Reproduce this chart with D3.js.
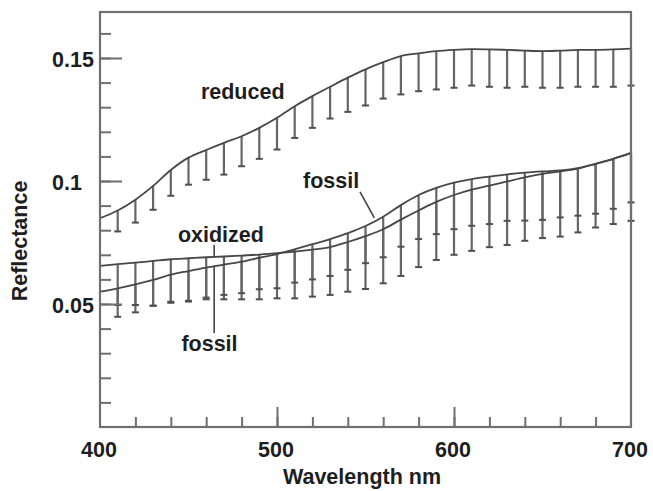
<!DOCTYPE html>
<html>
<head>
<meta charset="utf-8">
<script src="https://cdn.jsdelivr.net/npm/d3@7"></script>
<style>
  body { margin: 0; background: #fff; }
  text { font-family: "Liberation Sans", Arial, sans-serif; font-weight: bold; fill: #1e1e1e; }
</style>
</head>
<body>
<svg id="chart" width="653" height="491"></svg>
<script>
// wavelength samples (nm)
const wavelengths = [400, 410, 420, 430, 440, 450, 460, 470, 480, 490, 500, 510, 520, 530, 540, 550,
  560, 570, 580, 590, 600, 610, 620, 630, 640, 650, 660, 670, 680, 690, 700];

// mean reflectance curves
const reducedMean = [0.0849, 0.0880, 0.0924, 0.0980, 0.1045, 0.1095, 0.1126, 0.1155, 0.1182, 0.1216,
  0.1257, 0.1304, 0.1345, 0.1383, 0.1420, 0.1454, 0.1483, 0.1508, 0.1519, 0.1528, 0.1533, 0.1536,
  0.1535, 0.1533, 0.1530, 0.1528, 0.1530, 0.1533, 0.1533, 0.1535, 0.1538];
const oxidizedMean = [0.0655, 0.0662, 0.0668, 0.0675, 0.0682, 0.0686, 0.0690, 0.0693, 0.0697, 0.0701,
  0.0707, 0.0713, 0.0721, 0.0731, 0.0752, 0.0776, 0.0804, 0.0843, 0.0880, 0.0915, 0.0943, 0.0965,
  0.0981, 0.0998, 0.1015, 0.1029, 0.1039, 0.1050, 0.1070, 0.1090, 0.1114];
const fossilMean = [0.0550, 0.0564, 0.0580, 0.0598, 0.0619, 0.0634, 0.0648, 0.0660, 0.0672, 0.0688,
  0.0703, 0.0722, 0.0743, 0.0764, 0.0788, 0.0817, 0.0855, 0.0902, 0.0943, 0.0972, 0.0993, 0.1008,
  0.1018, 0.1027, 0.1034, 0.1039, 0.1043, 0.1052, 0.1070, 0.1090, 0.1114];

// lower end of the error bars (no bar at 400)
const reducedLow = [null, 0.0795, 0.0831, 0.0883, 0.0940, 0.0985, 0.1005, 0.1026, 0.1060, 0.1090,
  0.1128, 0.1175, 0.1216, 0.1254, 0.1281, 0.1307, 0.1335, 0.1352, 0.1365, 0.1372, 0.1379, 0.1388,
  0.1383, 0.1379, 0.1383, 0.1379, 0.1379, 0.1383, 0.1383, 0.1383, 0.1388];
const fossilLow = [null, 0.0496, 0.0496, 0.0493, 0.0509, 0.0513, 0.0526, 0.0537, 0.0544, 0.0560,
  0.0564, 0.0587, 0.0600, 0.0614, 0.0639, 0.0666, 0.0690, 0.0733, 0.0764, 0.0784, 0.0804, 0.0818,
  0.0825, 0.0838, 0.0839, 0.0842, 0.0852, 0.0859, 0.0867, 0.0887, 0.0913];
const oxidizedLow = [null, 0.0448, 0.0466, 0.0493, 0.0505, 0.0510, 0.0519, 0.0519, 0.0519, 0.0519,
  0.0523, 0.0523, 0.0530, 0.0537, 0.0550, 0.0561, 0.0584, 0.0614, 0.0650, 0.0679, 0.0700, 0.0716,
  0.0731, 0.0740, 0.0757, 0.0768, 0.0774, 0.0791, 0.0811, 0.0825, 0.0838];

const xTickLabels = [400, 500, 600, 700];
const yTickLabels = [0.05, 0.1, 0.15];

// text labels, anchored in data units (wavelength, reflectance)
const labelText = ['reduced', 'oxidized', 'fossil', 'fossil'];
const labelAt = [[457, 0.1335], [444, 0.0754], [446, 0.0308], [514.7, 0.0971]];
// pointer lines [[x1,y1],[x2,y2]] in data units
const pointers = [
  [[464.5, 0.0741], [464.5, 0.0691]],
  [[464.5, 0.0652], [464.5, 0.0382]],
  [[546.9, 0.0956], [555, 0.0850]]
];

const svg = d3.select('#chart');
const plotLeft = 100, plotRight = 631, plotTop = 12, plotBottom = 427;
const grey = '#6f6f6f';
const fs = 21.5;

const x = d3.scaleLinear().domain([400, 700]).range([plotLeft, plotRight]);
const y = d3.scaleLinear().domain([0, 0.1687]).range([plotBottom, plotTop]);

// error bars
function drawBars(mean, low, cls){
  const g = svg.append('g').attr('class', cls);
  wavelengths.forEach((w, i) => {
    if(low[i] == null) return;
    g.append('line')
      .attr('x1', x(w)).attr('x2', x(w))
      .attr('y1', y(mean[i])).attr('y2', y(low[i]))
      .attr('stroke', '#666').attr('stroke-width', 2.2);
    g.append('line')
      .attr('x1', x(w) - 3.5).attr('x2', x(w) + 3.5)
      .attr('y1', y(low[i])).attr('y2', y(low[i]))
      .attr('stroke', '#505050').attr('stroke-width', 2);
  });
}
drawBars(reducedMean, reducedLow, 'bars-reduced');
drawBars(oxidizedMean, oxidizedLow, 'bars-oxidized');
drawBars(fossilMean, fossilLow, 'bars-fossil');

// mean curves
const line = d3.line()
  .x((d, i) => x(wavelengths[i]))
  .y(d => y(d))
  .curve(d3.curveCatmullRom.alpha(0.5));

[reducedMean, oxidizedMean, fossilMean].forEach(s => {
  svg.append('path')
    .attr('d', line(s))
    .attr('fill', 'none')
    .attr('stroke', '#474747')
    .attr('stroke-width', 1.8);
});

// frame
svg.append('rect')
  .attr('x', plotLeft).attr('y', plotTop)
  .attr('width', plotRight - plotLeft).attr('height', plotBottom - plotTop)
  .attr('fill', 'none').attr('stroke', grey).attr('stroke-width', 2.2);

// bottom axis, ticks pointing inward
const xMinor = svg.append('g').attr('transform', `translate(0,${plotBottom})`)
  .call(d3.axisTop(x).tickValues(d3.range(420, 700, 20)).tickSize(10).tickFormat(''));
const xMajor = svg.append('g').attr('transform', `translate(0,${plotBottom})`)
  .call(d3.axisTop(x).tickValues([500, 600]).tickSize(20).tickFormat(''));
[xMinor, xMajor].forEach(g => {
  g.select('.domain').remove();
  g.selectAll('line').attr('stroke', grey).attr('stroke-width', 2);
});

svg.selectAll('.xlab')
  .data(xTickLabels)
  .enter().append('text')
  .attr('class', 'xlab')
  .attr('x', d => x(d) - 1)
  .attr('y', 457)
  .attr('text-anchor', 'middle')
  .attr('font-size', fs)
  .text(d => d);

// left axis, ticks pointing inward
const yMinor = svg.append('g').attr('transform', `translate(${plotLeft},0)`)
  .call(d3.axisRight(y).tickValues(d3.range(0.01, 0.165, 0.01)).tickSize(11).tickFormat(''));
const yMajor = svg.append('g').attr('transform', `translate(${plotLeft},0)`)
  .call(d3.axisRight(y).tickValues(yTickLabels).tickSize(22).tickFormat(''));
[yMinor, yMajor].forEach(g => {
  g.select('.domain').remove();
  g.selectAll('line').attr('stroke', grey).attr('stroke-width', 2);
});

svg.selectAll('.ylab')
  .data(yTickLabels)
  .enter().append('text')
  .attr('class', 'ylab')
  .attr('x', 52)
  .attr('y', d => y(d))
  .attr('dy', '0.4em')
  .attr('font-size', fs)
  .text(d => d);

// axis titles
svg.append('text')
  .attr('x', 362)
  .attr('y', 484)
  .attr('text-anchor', 'middle')
  .attr('font-size', fs)
  .text('Wavelength nm');

svg.append('text')
  .attr('transform', 'translate(27,241) rotate(-90)')
  .attr('text-anchor', 'middle')
  .attr('font-size', fs)
  .text('Reflectance');

// pointers and series labels
pointers.forEach(p => {
  svg.append('line')
    .attr('x1', x(p[0][0])).attr('y1', y(p[0][1]))
    .attr('x2', x(p[1][0])).attr('y2', y(p[1][1]))
    .attr('stroke', '#444').attr('stroke-width', 1.6);
});

labelText.forEach((t, i) => {
  svg.append('text')
    .attr('x', x(labelAt[i][0]))
    .attr('y', y(labelAt[i][1]))
    .attr('font-size', fs)
    .text(t);
});
</script>
</body>
</html>
